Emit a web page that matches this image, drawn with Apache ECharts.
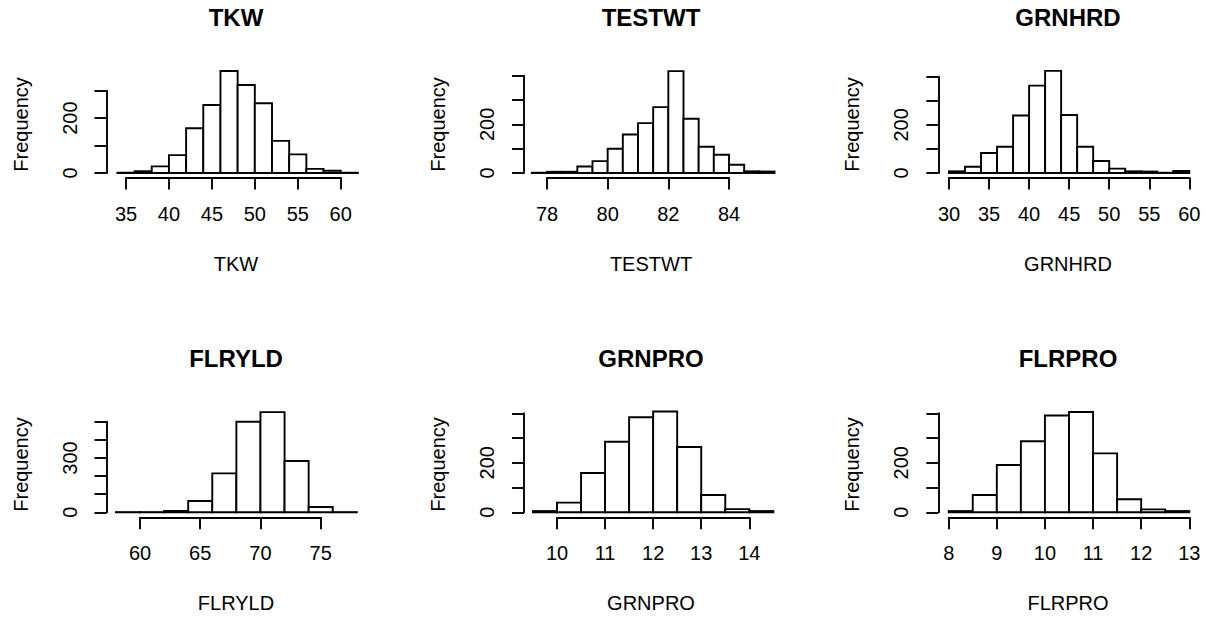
<!DOCTYPE html>
<html>
<head>
<meta charset="utf-8">
<title>Trait histograms</title>
<script src="https://cdn.jsdelivr.net/npm/echarts@6/dist/echarts.min.js"></script>
<style>
  html, body { margin: 0; padding: 0; background: #ffffff; }
  #chart { width: 1205px; height: 621px; }
</style>
</head>
<body>
<div id="chart"></div>
<script>
// ---- Bin edges and frequencies for each trait ----
const tkwBreaks = [34, 36, 38, 40, 42, 44, 46, 48, 50, 52, 54, 56, 58, 60, 62];
const tkwCounts = [1, 7, 24, 65, 163, 248, 372, 321, 254, 117, 68, 15, 8, 1];
const tkwXTicks = [35, 40, 45, 50, 55, 60];
const tkwYTicks = [0, 100, 200, 300];
const tkwYLabels = [0, 200];

const testwtBreaks = [77.5, 78, 78.5, 79, 79.5, 80, 80.5, 81, 81.5, 82, 82.5, 83, 83.5, 84, 84.5, 85, 85.5];
const testwtCounts = [1, 5, 5, 27, 49, 100, 158, 205, 271, 419, 223, 108, 75, 34, 7, 6];
const testwtXTicks = [78, 80, 82, 84];
const testwtYTicks = [0, 100, 200, 300, 400];
const testwtYLabels = [0, 200];

const grnhrdBreaks = [30, 32, 34, 36, 38, 40, 42, 44, 46, 48, 50, 52, 54, 56, 58, 60];
const grnhrdCounts = [7, 26, 83, 109, 239, 363, 424, 241, 109, 50, 18, 7, 6, 1, 8];
const grnhrdXTicks = [30, 35, 40, 45, 50, 55, 60];
const grnhrdYTicks = [0, 100, 200, 300, 400];
const grnhrdYLabels = [0, 200];

const flryldBreaks = [58, 60, 62, 64, 66, 68, 70, 72, 74, 76, 78];
const flryldCounts = [1, 1, 7, 62, 215, 500, 553, 283, 29, 1];
const flryldXTicks = [60, 65, 70, 75];
const flryldYTicks = [0, 100, 200, 300, 400, 500];
const flryldYLabels = [0, 300];

const grnproBreaks = [9.5, 10, 10.5, 11, 11.5, 12, 12.5, 13, 13.5, 14, 14.5];
const grnproCounts = [5, 39, 159, 285, 384, 407, 264, 70, 13, 5];
const grnproXTicks = [10, 11, 12, 13, 14];
const grnproYTicks = [0, 100, 200, 300, 400];
const grnproYLabels = [0, 200];

const flrproBreaks = [8, 8.5, 9, 9.5, 10, 10.5, 11, 11.5, 12, 12.5, 13];
const flrproCounts = [5, 70, 191, 287, 391, 405, 238, 53, 12, 5];
const flrproXTicks = [8, 9, 10, 11, 12, 13];
const flrproYTicks = [0, 100, 200, 300, 400];
const flrproYLabels = [0, 200];

// ---- Panel layout (pixels) ----
const FONT = "'Liberation Sans', Arial, Helvetica, sans-serif";
const INK = '#000000';
const LW = 1.9;
const rowTitleY = [17.5, 358];
const rowFreqY = [124.5, 464.5];

const panels = [
  { name: 'TKW',    breaks: tkwBreaks,    counts: tkwCounts,    xTicks: tkwXTicks,    yTicks: tkwYTicks,    yLabels: tkwYLabels,
    grid: { left: 126,   top: 90.7,  width: 214.7, height: 82.3 }, xOffset: 4.5, yOffset: 19.5, cx: 236,  row: 0 },
  { name: 'TESTWT', breaks: testwtBreaks, counts: testwtCounts, xTicks: testwtXTicks, yTicks: testwtYTicks, yLabels: testwtYLabels,
    grid: { left: 547,   top: 75.7,  width: 182,   height: 97.3 }, xOffset: 4.5, yOffset: 23,   cx: 651,  row: 0 },
  { name: 'GRNHRD', breaks: grnhrdBreaks, counts: grnhrdCounts, xTicks: grnhrdXTicks, yTicks: grnhrdYTicks, yLabels: grnhrdYLabels,
    grid: { left: 949,   top: 76.7,  width: 240.3, height: 96.3 }, xOffset: 4.5, yOffset: 10.7, cx: 1068, row: 0 },
  { name: 'FLRYLD', breaks: flryldBreaks, counts: flryldCounts, xTicks: flryldXTicks, yTicks: flryldYTicks, yLabels: flryldYLabels,
    grid: { left: 140,   top: 421.7, width: 180.7, height: 90.6 }, xOffset: 5,   yOffset: 33.5, cx: 236,  row: 1 },
  { name: 'GRNPRO', breaks: grnproBreaks, counts: grnproCounts, xTicks: grnproXTicks, yTicks: grnproYTicks, yLabels: grnproYLabels,
    grid: { left: 557,   top: 413.3, width: 192.3, height: 99 },   xOffset: 5,   yOffset: 33,   cx: 651,  row: 1 },
  { name: 'FLRPRO', breaks: flrproBreaks, counts: flrproCounts, xTicks: flrproXTicks, yTicks: flrproYTicks, yLabels: flrproYLabels,
    grid: { left: 948.7, top: 413.3, width: 240.6, height: 99 },   xOffset: 5,   yOffset: 10.4, cx: 1068, row: 1 }
];

const grids = [], xAxes = [], yAxes = [], series = [], titles = [];

panels.forEach((p, i) => {
  const g = p.grid;
  grids.push({ left: g.left, top: g.top, width: g.width, height: g.height, containLabel: false, outerBoundsMode: 'none' });

  // shift the axis titles so they sit centred on the whole plotting region
  const sx = p.cx - (g.left + g.width / 2);
  const xPad = sx >= 0 ? [0, 0, 0, 2 * sx] : [0, -2 * sx, 0, 0];
  const su = (g.top + g.height / 2) - rowFreqY[p.row];
  const yPad = su >= 0 ? [0, 0, 0, 2 * su] : [0, -2 * su, 0, 0];

  const xs = p.xTicks, ys = p.yTicks;
  xAxes.push({
    type: 'value', gridIndex: i,
    min: xs[0], max: xs[xs.length - 1], interval: xs[1] - xs[0],
    offset: p.xOffset,
    name: p.name, nameLocation: 'middle', nameGap: 76,
    nameTextStyle: { fontFamily: FONT, fontSize: 20, color: INK, padding: xPad },
    axisLine: { show: true, onZero: false, lineStyle: { color: INK, width: LW } },
    axisTick: { show: true, length: 12, lineStyle: { color: INK, width: LW } },
    axisLabel: { show: true, margin: 26, fontFamily: FONT, fontSize: 20, color: INK, showMinLabel: true, showMaxLabel: true },
    splitLine: { show: false }
  });
  const shown = p.yLabels;
  yAxes.push({
    type: 'value', gridIndex: i,
    min: ys[0], max: ys[ys.length - 1], interval: ys[1] - ys[0],
    offset: p.yOffset,
    name: 'Frequency', nameLocation: 'middle', nameGap: 76, nameRotate: 90,
    nameTextStyle: { fontFamily: FONT, fontSize: 20, color: INK, padding: yPad },
    axisLine: { show: true, onZero: false, lineStyle: { color: INK, width: LW } },
    axisTick: { show: true, length: 12, lineStyle: { color: INK, width: LW } },
    axisLabel: {
      show: true, rotate: 90, margin: 27, fontFamily: FONT, fontSize: 20, color: INK,
      showMinLabel: true, showMaxLabel: true,
      formatter: (v) => (shown.indexOf(v) >= 0 ? String(v) : '')
    },
    splitLine: { show: false }
  });

  // one item per bin: [left edge, right edge, count]
  const bins = p.counts.map((c, k) => [p.breaks[k], p.breaks[k + 1], c]);
  series.push({
    type: 'custom', name: p.name,
    xAxisIndex: i, yAxisIndex: i,
    clip: false, silent: true,
    encode: { x: [0, 1], y: 2 },
    data: bins,
    renderItem: (params, api) => {
      const lo = api.coord([api.value(0), 0]);
      const hi = api.coord([api.value(1), api.value(2)]);
      return {
        type: 'rect',
        shape: { x: lo[0], y: hi[1], width: hi[0] - lo[0], height: lo[1] - hi[1] },
        style: { fill: '#ffffff', stroke: INK, lineWidth: LW }
      };
    }
  });

  titles.push({
    text: p.name, left: p.cx, top: rowTitleY[p.row], padding: 0,
    textAlign: 'center', textVerticalAlign: 'middle',
    textStyle: { fontFamily: FONT, fontSize: 24, fontWeight: 'bold', color: INK, lineHeight: 24 }
  });
});

const chart = echarts.init(document.getElementById('chart'), null, { renderer: 'svg' });
chart.setOption({
  backgroundColor: '#ffffff',
  animation: false,
  title: titles,
  grid: grids,
  xAxis: xAxes,
  yAxis: yAxes,
  series: series
});
</script>
</body>
</html>
